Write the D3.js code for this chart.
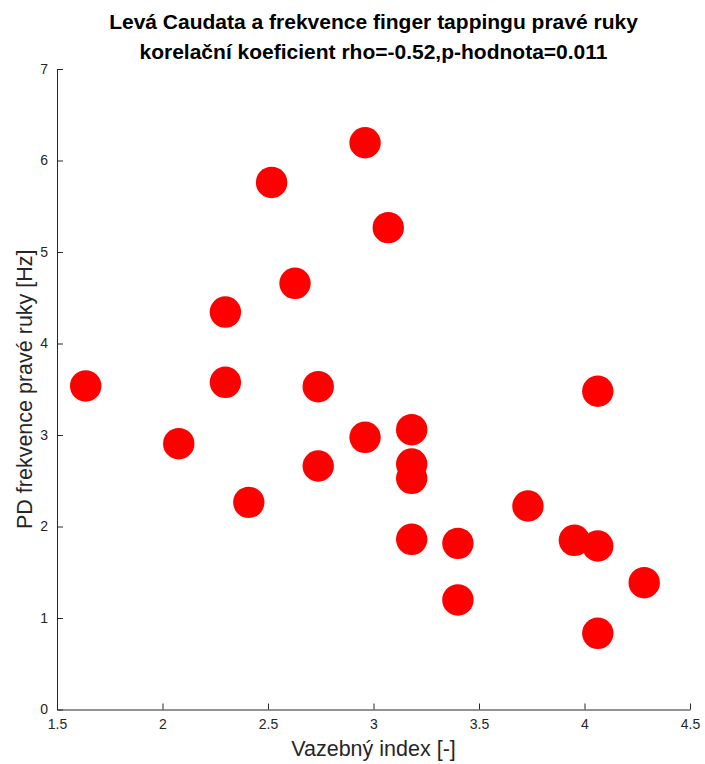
<!DOCTYPE html>
<html><head><meta charset="utf-8">
<script src="https://cdn.jsdelivr.net/npm/d3@7"></script>
<style>body{margin:0;background:#fff}text{font-family:"Liberation Sans",Arial,Helvetica,sans-serif}</style>
</head><body>
<script>
const xValues = [1.636, 2.077, 2.298, 2.298, 2.409, 2.517, 2.628, 2.738, 2.738, 2.960, 2.960, 3.070, 3.181, 3.181, 3.181, 3.181, 3.400, 3.400, 3.732, 3.952, 4.063, 4.063, 4.063, 4.283];
const yValues = [3.536, 2.905, 4.344, 3.576, 2.264, 5.760, 4.658, 3.528, 2.661, 6.194, 2.975, 5.266, 3.058, 2.683, 2.527, 1.860, 1.816, 1.197, 2.224, 1.849, 3.478, 1.787, 0.833, 1.386];
const xTicks = [1.5, 2, 2.5, 3, 3.5, 4, 4.5];
const yTicks = [0, 1, 2, 3, 4, 5, 6, 7];
const titleLines = ["Levá Caudata a frekvence finger tappingu pravé ruky", "korelační koeficient rho=-0.52,p-hodnota=0.011"];
const xLabel = "Vazebný index [-]";
const yLabel = "PD frekvence pravé ruky [Hz]";

const W = 705, H = 764;
const m = {left: 57, right: 690, top: 69, bottom: 709.5};
const axisColor = "#262626";
const svg = d3.select("body").append("svg").attr("width", W).attr("height", H);

const x = d3.scaleLinear().domain([1.5, 4.5]).range([m.left, m.right]);
const y = d3.scaleLinear().domain([0, 7]).range([m.bottom, m.top]);

const gx = svg.append("g").attr("transform", `translate(0,${m.bottom})`)
  .call(d3.axisBottom(x).tickValues(xTicks).tickFormat(d3.format("")).tickSizeInner(-6).tickSizeOuter(0).tickPadding(10));
const gy = svg.append("g").attr("transform", `translate(${m.left},0)`)
  .call(d3.axisLeft(y).tickValues(yTicks).tickFormat(d3.format("d")).tickSizeInner(-6).tickSizeOuter(0).tickPadding(9));
[gx, gy].forEach(g => {
  g.select(".domain").attr("stroke", axisColor).attr("stroke-width", 1);
  g.selectAll(".tick line").attr("stroke", axisColor);
  g.selectAll(".tick text").attr("fill", axisColor).style("font-size", "14px").style("font-family", '"Liberation Sans",Arial,sans-serif');
});

svg.append("g").selectAll("circle").data(xValues).join("circle")
  .attr("cx", (d) => x(d)).attr("cy", (d, i) => y(yValues[i]))
  .attr("r", 15.7).attr("fill", "#ff0000");

svg.append("g").selectAll("text").data(titleLines).join("text")
  .attr("x", (m.left + m.right) / 2).attr("y", (d, i) => 29 + i * 30)
  .attr("text-anchor", "middle").attr("fill", "#000")
  .style("font-size", "21px").style("font-weight", "bold").text(d => d);

svg.append("text").attr("x", (m.left + m.right) / 2).attr("y", 756)
  .attr("text-anchor", "middle").attr("fill", axisColor).style("font-size", "21.5px").text(xLabel);
svg.append("text").attr("transform", `translate(32,${(m.top + m.bottom) / 2}) rotate(-90)`)
  .attr("text-anchor", "middle").attr("fill", axisColor).style("font-size", "21.5px").text(yLabel);
</script>
</body></html>
